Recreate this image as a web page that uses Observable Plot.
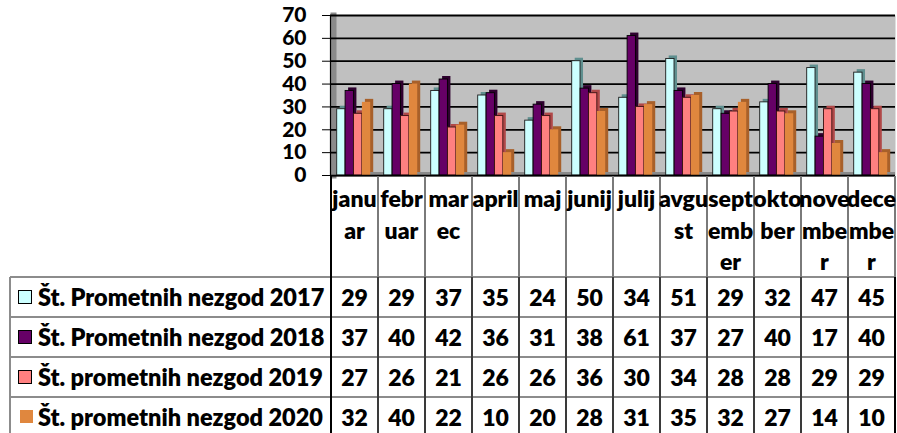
<!DOCTYPE html>
<html>
<head>
<meta charset="utf-8">
<script src="https://cdn.jsdelivr.net/npm/d3@7"></script>
<script src="https://cdn.jsdelivr.net/npm/@observablehq/plot@0.6"></script>
<style>
  html, body { margin: 0; padding: 0; background: #fff; }
  #wrap { position: relative; width: 897px; height: 433px; overflow: hidden; font-family: Lato, "Open Sans", sans-serif; font-weight: 800; color: #000; }
  #wrap svg { position: absolute; left: 0; top: 0; overflow: visible; }
  .ln { position: absolute; }
  .txt { position: absolute; white-space: pre; text-align: center; }
</style>
</head>
<body>
<div id="wrap"></div>
<script>
const months = ["januar","februar","marec","april","maj","junij","julij","avgust","september","oktober","november","december"];
const monthLabels = ["janu\nar","febr\nuar","mar\nec","april","maj","junij","julij","avgu\nst","sept\nemb\ner","okto\nber","nove\nmbe\nr","dece\nmbe\nr"];
const seriesNames = ["Št. Prometnih nezgod 2017","Št. Prometnih nezgod 2018","Št. prometnih nezgod 2019","Št. prometnih nezgod 2020"];
const s2017 = [29,29,37,35,24,50,34,51,29,32,47,45];
const s2018 = [37,40,42,36,31,38,61,37,27,40,17,40];
const s2019 = [27,26,21,26,26,36,30,34,28,28,29,29];
const s2020 = [32,40,22,10,20,28,31,35,32,27,14,10];
const yTicks = [0,10,20,30,40,50,60,70];

const series = [s2017, s2018, s2019, s2020];
const frontColors = ["#ccffff","#660066","#ff8080","#e0873e"];
const sideColors = ["#5f8f8f","#2e002e","#b04848","#a8602a"];
const frontStroke = ["#1a1a1a","#000","#3a1010","none"];

const step = 565 / 12;
const barW = 8.4, lead = 5.7;

const barMarks = [];
series.forEach((vals, k) => {
  const insetLeft = lead + barW * k;
  const insetRight = step - lead - barW * (k + 1);
  barMarks.push(Plot.barY(vals, {x: (d, i) => months[i], y: d => d, fill: sideColors[k], insetLeft, insetRight, dx: 3, dy: -3}));
  barMarks.push(Plot.barY(vals, {x: (d, i) => months[i], y: d => d, fill: frontColors[k], stroke: frontStroke[k], strokeWidth: 0.9, insetLeft, insetRight}));
});

const plot = Plot.plot({
  width: 897, height: 178,
  marginLeft: 330, marginRight: 2, marginTop: 15, marginBottom: 3,
  x: {domain: months, padding: 0, axis: null},
  y: {domain: [0, 70], axis: null},
  style: {fontFamily: "Lato, 'Open Sans', sans-serif", color: "#000", background: "transparent", overflow: "visible"},
  marks: [
    Plot.frame({fill: "#c0c0c0", stroke: null}),
    Plot.frame({anchor: "left", stroke: "#8a8a8a", strokeWidth: 6, dx: 3}),
    Plot.ruleY(yTicks, {stroke: "#000", strokeWidth: 1.8}),
    Plot.ruleY([0], {stroke: "#8a8a8a", strokeWidth: 3, dy: -2}),
    ...barMarks,
    Plot.axisY({ticks: yTicks, tickSize: 8, tickPadding: 16, fontSize: 21, fontWeight: 900, tickFormat: d => String(d)}),
    Plot.frame({anchor: "left", stroke: "#000", strokeWidth: 1.2}),
    Plot.ruleY([0], {stroke: "#000", strokeWidth: 1.5})
  ]
});

const wrap = d3.select("#wrap");
wrap.node().appendChild(plot);

const xs = plot.scale("x");
const colLeft = m => xs.apply(m);
const bw = xs.bandwidth;
const xEnd = colLeft(months[months.length - 1]) + bw;

const headerTop = 176, headerBottom = 277, rowH = 40;
const tableLeft = 10;

function line(x, y, w, h, color) {
  wrap.append("div").attr("class", "ln")
    .style("left", x + "px").style("top", y + "px")
    .style("width", w + "px").style("height", h + "px")
    .style("background", color);
}

for (let r = 0; r < series.length; r++) {
  line(tableLeft, headerBottom + r * rowH - 1, xEnd - tableLeft, 2, "#8c8c8c");
}
line(tableLeft - 1, headerBottom, 2, 433 - headerBottom, "#8c8c8c");
months.forEach((m, i) => {
  const x = colLeft(m);
  if (i === 0) {
    line(x - 1, headerTop, 2, 433 - headerTop, "#000");
  } else {
    line(x - 0.75, headerTop, 1.5, headerBottom - headerTop, "#7a7a7a");
    line(x - 1, headerBottom, 2, 433 - headerBottom, "#3a3a3a");
  }
});
line(xEnd - 0.75, headerTop, 1.5, headerBottom - headerTop, "#7a7a7a");
line(xEnd - 1, headerBottom, 2, 433 - headerBottom, "#000");

months.forEach((m, i) => {
  const cx = colLeft(m) + bw / 2;
  wrap.append("div").attr("class", "txt")
    .style("left", (cx - 35) + "px").style("width", "70px")
    .style("top", "183px").style("font-size", "23px").style("line-height", "31.5px")
    .text(monthLabels[i]);
});

series.forEach((vals, k) => {
  const top = headerBottom + k * rowH;
  const key = wrap.append("div").attr("class", "ln")
    .style("background", frontColors[k]);
  if (k < 3) {
    key.style("left", "18px").style("top", (top + 13) + "px").style("width", "12px").style("height", "12px")
       .style("border", "1.5px solid #000");
  } else {
    key.style("left", "19.5px").style("top", (top + 13) + "px").style("width", "13px").style("height", "13px");
  }
  wrap.append("div").attr("class", "txt")
    .style("left", "38px").style("top", top + "px").style("height", rowH + "px")
    .style("line-height", rowH + "px").style("font-size", "23.5px").style("text-align", "left")
    .text(seriesNames[k]);
  vals.forEach((v, i) => {
    wrap.append("div").attr("class", "txt")
      .style("left", colLeft(months[i]) + "px").style("width", bw + "px")
      .style("top", top + "px").style("height", rowH + "px")
      .style("line-height", rowH + "px").style("font-size", "23px")
      .text(String(v));
  });
});
</script>
</body>
</html>
